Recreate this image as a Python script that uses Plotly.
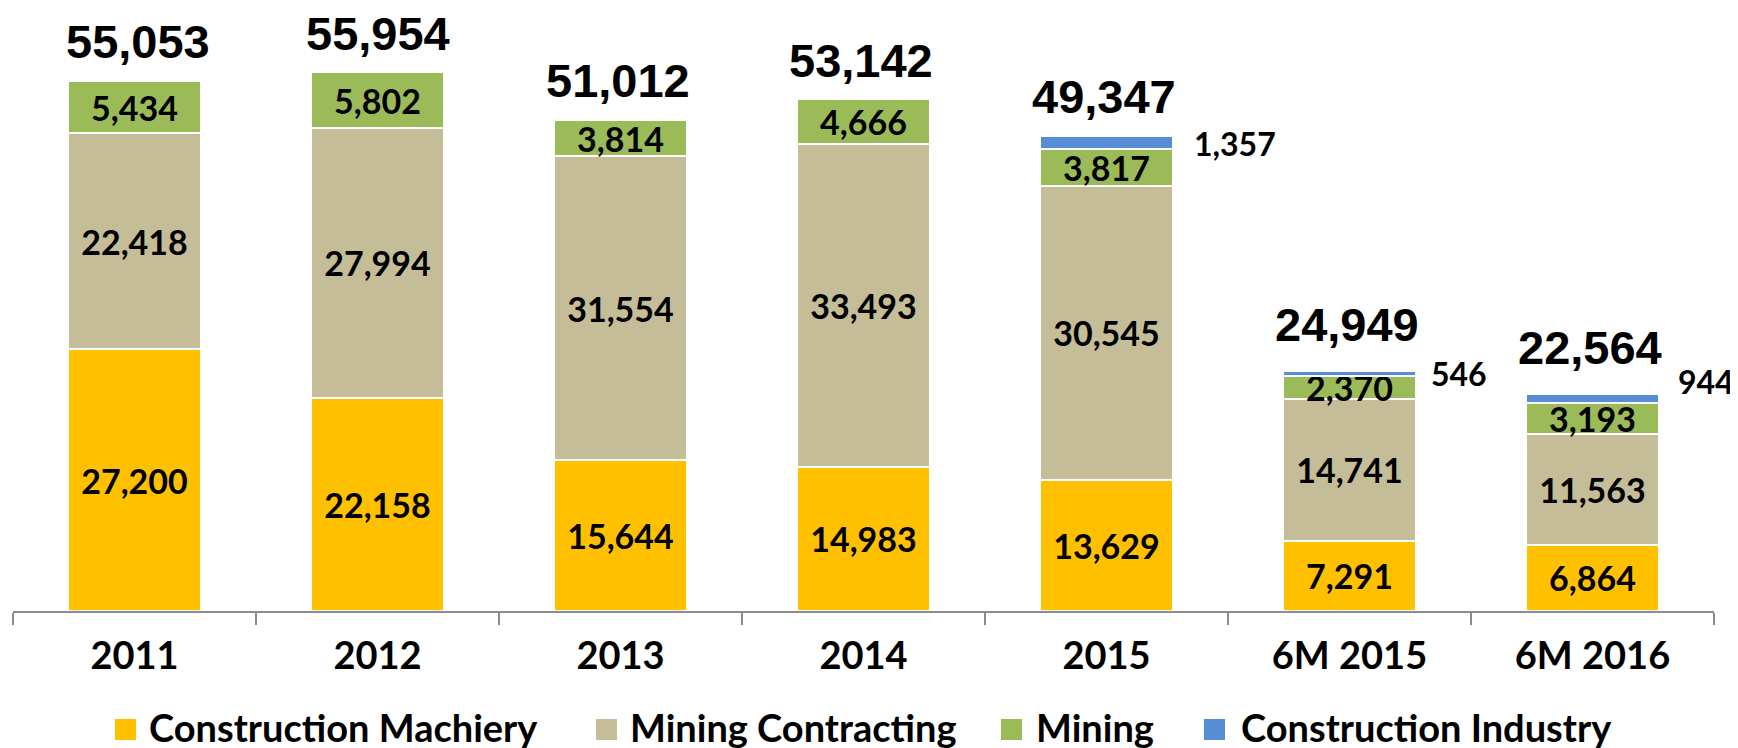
import plotly.graph_objects as go

categories = ["2011", "2012", "2013", "2014", "2015", "6M 2015", "6M 2016"]
construction_machinery = [27200, 22158, 15644, 14983, 13629, 7291, 6864]
mining_contracting = [22418, 27994, 31554, 33493, 30545, 14741, 11563]
mining = [5434, 5802, 3814, 4666, 3817, 2370, 3193]
construction_industry = [0, 0, 0, 0, 1357, 546, 944]
totals = [55053, 55954, 51012, 53142, 49347, 24949, 22564]

series_names = ["Construction Machiery", "Mining Contracting", "Mining", "Construction Industry"]
colors = ["#FFC000", "#C4BD97", "#9BBB59", "#558ED5"]

# page has an 8px body margin; figure sized to fit inside the window
OFF = 8
W, H = 1730, 740
ML, MR, MT, MB = 5, 24, 0, 137
PW = W - ML - MR
PH = H - MT - MB

LATO = "Lato"
pos = list(range(len(categories)))

fig = go.Figure()
series = [construction_machinery, mining_contracting, mining, construction_industry]
for name, vals, col in zip(series_names, series, colors):
    show_text = name != "Construction Industry"
    fig.add_trace(go.Bar(
        x=pos, y=vals, name=name, width=0.55,
        marker=dict(color=col, line=dict(color="white", width=2)),
        text=[f"{v:,}" if (show_text and v) else "" for v in vals],
        textposition="inside", insidetextanchor="middle",
        constraintext="none", cliponaxis=False,
        textfont=dict(family=LATO, size=34, color="black"),
        showlegend=False,
    ))

annotations = []
# totals above bars
total_shift = [39, 39, 39, 39, 39, 46, 46]
total_xshift = [3, 0, -3, -3, -3, -3, -3]
for p, t, s, xs in zip(pos, totals, total_shift, total_xshift):
    annotations.append(dict(
        x=p, y=t, xref="x", yref="y", text=f"<b>{t:,}</b>", showarrow=False,
        yanchor="middle", yshift=s, xshift=xs,
        font=dict(family="Liberation Sans", size=47, color="black"),
    ))

# construction industry labels to the right of bars
ci_xshift = [84, 84, 84, 84, 85, 79, 83]
ci_yshift = [0, 0, 0, 0, -8, -3, 12]
for p, v, t, xs, ys in zip(pos, construction_industry, totals, ci_xshift, ci_yshift):
    if v:
        annotations.append(dict(
            x=p, y=t, xref="x", yref="y", text=f"<b>{v:,}</b>", showarrow=False,
            xanchor="left", yanchor="middle", xshift=xs, yshift=ys,
            font=dict(family=LATO, size=32, color="black"),
        ))

# manual legend (positions given in page pixels)
def px_x(px):
    return (px - OFF - ML) / PW

def px_y(py):
    return (MT + PH - (py - OFF)) / PH

legend_sq_x = [115, 596, 1001, 1204]
legend_txt_x = [147, 628, 1034, 1239]
shapes = []
for name, col, sx, tx in zip(series_names, colors, legend_sq_x, legend_txt_x):
    shapes.append(dict(type="rect", xref="paper", yref="paper",
                       x0=px_x(sx), x1=px_x(sx + 21), y0=px_y(719), y1=px_y(740),
                       fillcolor=col, line=dict(width=0)))
    annotations.append(dict(
        x=px_x(tx), y=px_y(727), xref="paper", yref="paper", text=f"<b>{name}</b>",
        showarrow=False, xanchor="left", yanchor="middle",
        font=dict(family=LATO, size=38, color="black"),
    ))

fig.update_traces(texttemplate="<b>%{text}</b>")

fig.update_layout(
    barmode="stack",
    width=W, height=H,
    margin=dict(l=ML, r=MR, t=MT, b=MB, pad=0),
    plot_bgcolor="white", paper_bgcolor="white",
    annotations=annotations, shapes=shapes,
    xaxis=dict(
        type="linear", range=[-0.5, len(categories) - 0.5],
        tickmode="array", tickvals=pos, ticktext=[f"<b>{c}</b>" for c in categories],
        ticks="", showline=True, linecolor="#8C8C8C", linewidth=2,
        showgrid=False, zeroline=False, ticklabelstandoff=10,
        tickfont=dict(family=LATO, size=38, color="black"),
        minor=dict(tickmode="array", tickvals=[p - 0.5 for p in pos] + [pos[-1] + 0.5],
                   ticks="outside", ticklen=12, tickcolor="#8C8C8C", tickwidth=2,
                   showgrid=False),
    ),
    yaxis=dict(visible=False, range=[0, 62617]),
    showlegend=False,
)

fig.write_html("out.html")
